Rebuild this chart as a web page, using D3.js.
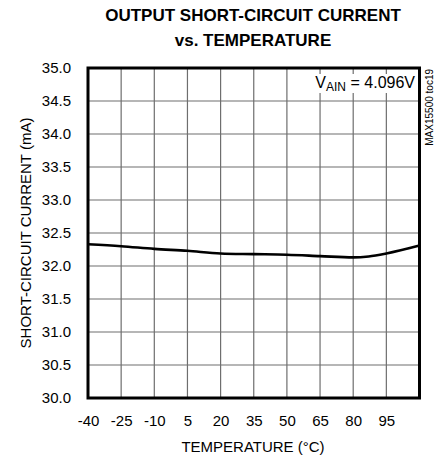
<!DOCTYPE html>
<html><head><meta charset="utf-8">
<script src="https://cdn.jsdelivr.net/npm/d3@7"></script>
<style>body{margin:0;background:#fff}svg{display:block}</style>
</head><body>
<svg id="c" width="448" height="460"></svg>
<script>
const temps = [-40, -25, -10, 5, 20, 35, 50, 65, 80, 87, 95, 110];
const current = [32.33, 32.30, 32.26, 32.23, 32.19, 32.18, 32.17, 32.15, 32.13, 32.145, 32.19, 32.31];
const xTicks = [-40, -25, -10, 5, 20, 35, 50, 65, 80, 95, 110];
const xTickLabels = ["-40", "-25", "-10", "5", "20", "35", "50", "65", "80", "95", ""];
const yTicks = [30.0, 30.5, 31.0, 31.5, 32.0, 32.5, 33.0, 33.5, 34.0, 34.5, 35.0];

const FONT = "'Liberation Sans Narrow','Arial Narrow','Liberation Sans',Arial,sans-serif";
const svg = d3.select("#c");
const L = 88, R = 419.5, T = 68, B = 398;
const x = d3.scaleLinear().domain([-40, 110]).range([L, R]);
const y = d3.scaleLinear().domain([30, 35]).range([B, T]);

// grid
const g = svg.append("g");
g.selectAll(".vg").data(xTicks.slice(1, -1)).enter().append("line")
  .attr("x1", d => x(d)).attr("x2", d => x(d)).attr("y1", T).attr("y2", B)
  .attr("stroke", "#6e6e6e").attr("stroke-width", 1.2);
g.selectAll(".hg").data(yTicks.slice(1, -1)).enter().append("line")
  .attr("y1", d => y(d)).attr("y2", d => y(d)).attr("x1", L).attr("x2", R)
  .attr("stroke", "#6e6e6e").attr("stroke-width", 1.2);

// annotation box
svg.append("rect").attr("x", 310).attr("y", 74).attr("width", R - 310 - 1.5).attr("height", 19).attr("fill", "#fff");
const ann = svg.append("text").attr("x", 415).attr("y", 88).attr("text-anchor", "end")
  .attr("font-family", FONT).attr("font-size", 16).attr("fill", "#000");
ann.append("tspan").text("V");
ann.append("tspan").attr("font-size", 12).attr("dy", 3).text("AIN");
ann.append("tspan").attr("dy", -3).text(" = 4.096V");

// curve
svg.append("path").datum(temps.map((t, i) => [t, current[i]]))
  .attr("d", d3.line().x(d => x(d[0])).y(d => y(d[1])).curve(d3.curveMonotoneX))
  .attr("fill", "none").attr("stroke", "#000").attr("stroke-width", 2.6);

// border
svg.append("rect").attr("x", L).attr("y", T).attr("width", R - L).attr("height", B - T)
  .attr("fill", "none").attr("stroke", "#000").attr("stroke-width", 3);

// axes (labels via d3 axis)
const xAxis = d3.axisBottom(x).tickValues(xTicks).tickSize(0).tickPadding(0)
  .tickFormat((d, i) => xTickLabels[i]);
const xa = svg.append("g").attr("transform", `translate(0,${B + 17})`).call(xAxis);
xa.select(".domain").remove();
xa.selectAll("text").attr("font-family", FONT).attr("font-size", 15).attr("fill", "#000").attr("dy", "0.71em");

const yAxis = d3.axisLeft(y).tickValues(yTicks).tickSize(0).tickPadding(0)
  .tickFormat(d3.format(".1f"));
const ya = svg.append("g").attr("transform", `translate(${L - 17},0)`).call(yAxis);
ya.select(".domain").remove();
ya.selectAll("text").attr("font-family", FONT).attr("font-size", 15).attr("fill", "#000");

// titles
const title = svg.append("text").attr("text-anchor", "middle").attr("font-family", FONT)
  .attr("font-weight", "bold").attr("font-size", 17).attr("fill", "#000");
title.append("tspan").attr("x", 253).attr("y", 21).text("OUTPUT SHORT-CIRCUIT CURRENT");
title.append("tspan").attr("x", 253).attr("y", 46).text("vs. TEMPERATURE");

svg.append("text").attr("x", 253).attr("y", 452).attr("text-anchor", "middle")
  .attr("font-family", FONT).attr("font-size", 15).attr("fill", "#000").text("TEMPERATURE (°C)");

svg.append("text").attr("transform", `translate(31,${(T + B) / 2}) rotate(-90)`)
  .attr("text-anchor", "middle").attr("font-family", FONT).attr("font-size", 15).attr("fill", "#000")
  .text("SHORT-CIRCUIT CURRENT (mA)");

svg.append("text").attr("transform", `translate(433,${T + 1}) rotate(-90)`)
  .attr("text-anchor", "end").attr("font-family", FONT).attr("font-size", 10).attr("fill", "#000")
  .text("MAX15500 toc19");
</script>
</body></html>
